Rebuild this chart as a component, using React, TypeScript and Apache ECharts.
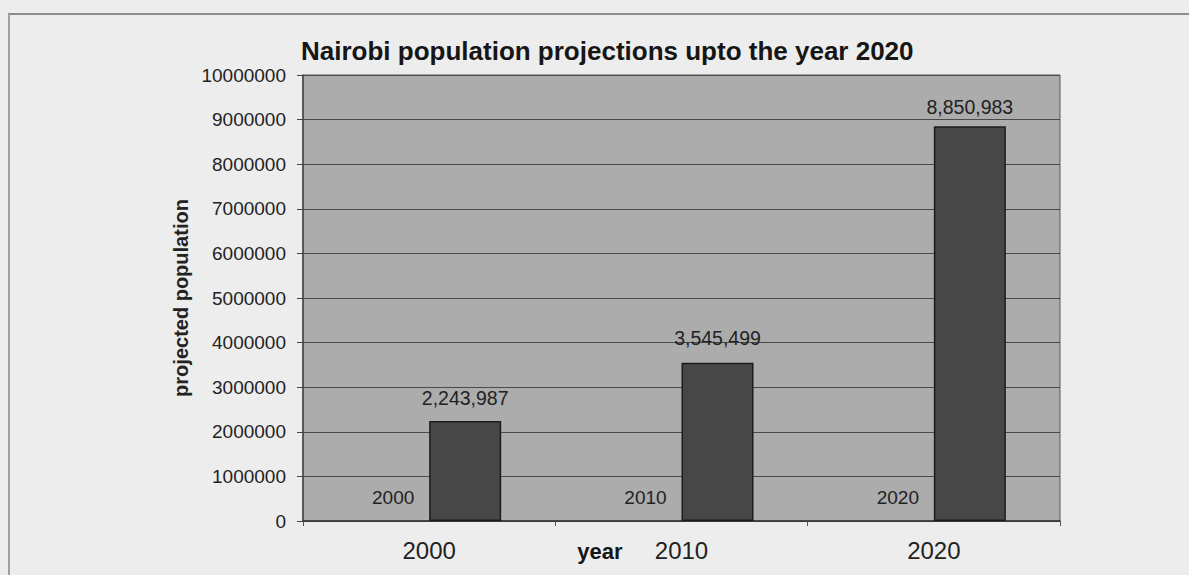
import React, { useEffect, useRef } from "react";
import * as echarts from "echarts";

const categories = ["2000", "2010", "2020"];
const yearSeries = [2000, 2010, 2020];
const population = [2243987, 3545499, 8850983];
const populationLabelDistance = [13, 15, 9];
const yMin = 0;
const yMax = 10000000;
const yInterval = 1000000;

const FONT = "'Liberation Sans', Arial, sans-serif";

export default function App() {
  const ref = useRef<HTMLDivElement>(null);

  useEffect(() => {
    if (!ref.current) return;
    const chart = echarts.init(ref.current, null, { renderer: "svg" });
    const fmt = (v: number) => v.toLocaleString("en-US");
    chart.setOption({
      animation: false,
      backgroundColor: "#ededed",
      textStyle: { fontFamily: FONT },
      title: {
        text: "Nairobi population projections upto the year 2020",
        left: 296,
        top: 33,
        textStyle: { fontFamily: FONT, fontSize: 26, fontWeight: "bold", color: "#161616" },
      },
      grid: {
        left: 303,
        top: 75,
        width: 757,
        height: 446,
        show: true,
        backgroundColor: "#acacac",
        borderColor: "#5a5a5a",
        borderWidth: 1,
      },
      xAxis: {
        type: "category",
        data: categories,
        axisLine: { lineStyle: { color: "#333", width: 1.5 } },
        axisTick: { show: true, length: 5, inside: false, lineStyle: { color: "#555" } },
        axisLabel: { fontSize: 24, color: "#222", margin: 17, fontFamily: FONT },
      },
      yAxis: {
        type: "value",
        min: yMin,
        max: yMax,
        interval: yInterval,
        name: "projected population",
        nameLocation: "middle",
        nameRotate: 90,
        nameGap: 110,
        nameTextStyle: { fontSize: 20, fontWeight: "bold", color: "#222", fontFamily: FONT },
        axisLine: { show: true, lineStyle: { color: "#444", width: 1.5 } },
        axisTick: { show: true, length: 6, lineStyle: { color: "#444" } },
        axisLabel: {
          fontSize: 19,
          color: "#222",
          margin: 17,
          fontFamily: FONT,
          formatter: (v: number) => String(v),
        },
        splitLine: { show: true, lineStyle: { color: "#4a4a4a", width: 1 } },
      },
      series: [
        {
          name: "year",
          type: "bar",
          data: yearSeries,
          barWidth: 72,
          barGap: "0%",
          itemStyle: { color: "#8a8aa8" },
          label: {
            show: true,
            position: "top",
            distance: 14,
            fontSize: 19,
            color: "#222",
            fontFamily: FONT,
          },
        },
        {
          name: "population",
          type: "bar",
          barWidth: 72,
          barGap: "0%",
          data: population.map((v, i) => ({
            value: v,
            label: { distance: populationLabelDistance[i] },
          })),
          itemStyle: { color: "#474747", borderColor: "#1c1c1c", borderWidth: 1.5 },
          label: {
            show: true,
            position: "top",
            fontSize: 19.5,
            color: "#222",
            fontFamily: FONT,
            formatter: (p: any) => fmt(p.value),
          },
        },
      ],
      graphic: [
        {
          type: "line",
          shape: { x1: 8, y1: 14, x2: 1189, y2: 14 },
          style: { stroke: "#8c8c8c", lineWidth: 2 },
          silent: true,
        },
        {
          type: "line",
          shape: { x1: 9, y1: 14, x2: 9, y2: 575 },
          style: { stroke: "#a0a0a0", lineWidth: 2 },
          silent: true,
        },
        {
          type: "text",
          x: 600,
          y: 551,
          style: {
            text: "year",
            fontSize: 22,
            fontWeight: "bold",
            fill: "#161616",
            fontFamily: FONT,
            align: "center",
            verticalAlign: "middle",
          },
        },
      ],
    });
    return () => chart.dispose();
  }, []);

  return (
    <div
      ref={ref}
      style={{ position: "fixed", left: 0, top: 0, width: 1189, height: 575 }}
    />
  );
}
